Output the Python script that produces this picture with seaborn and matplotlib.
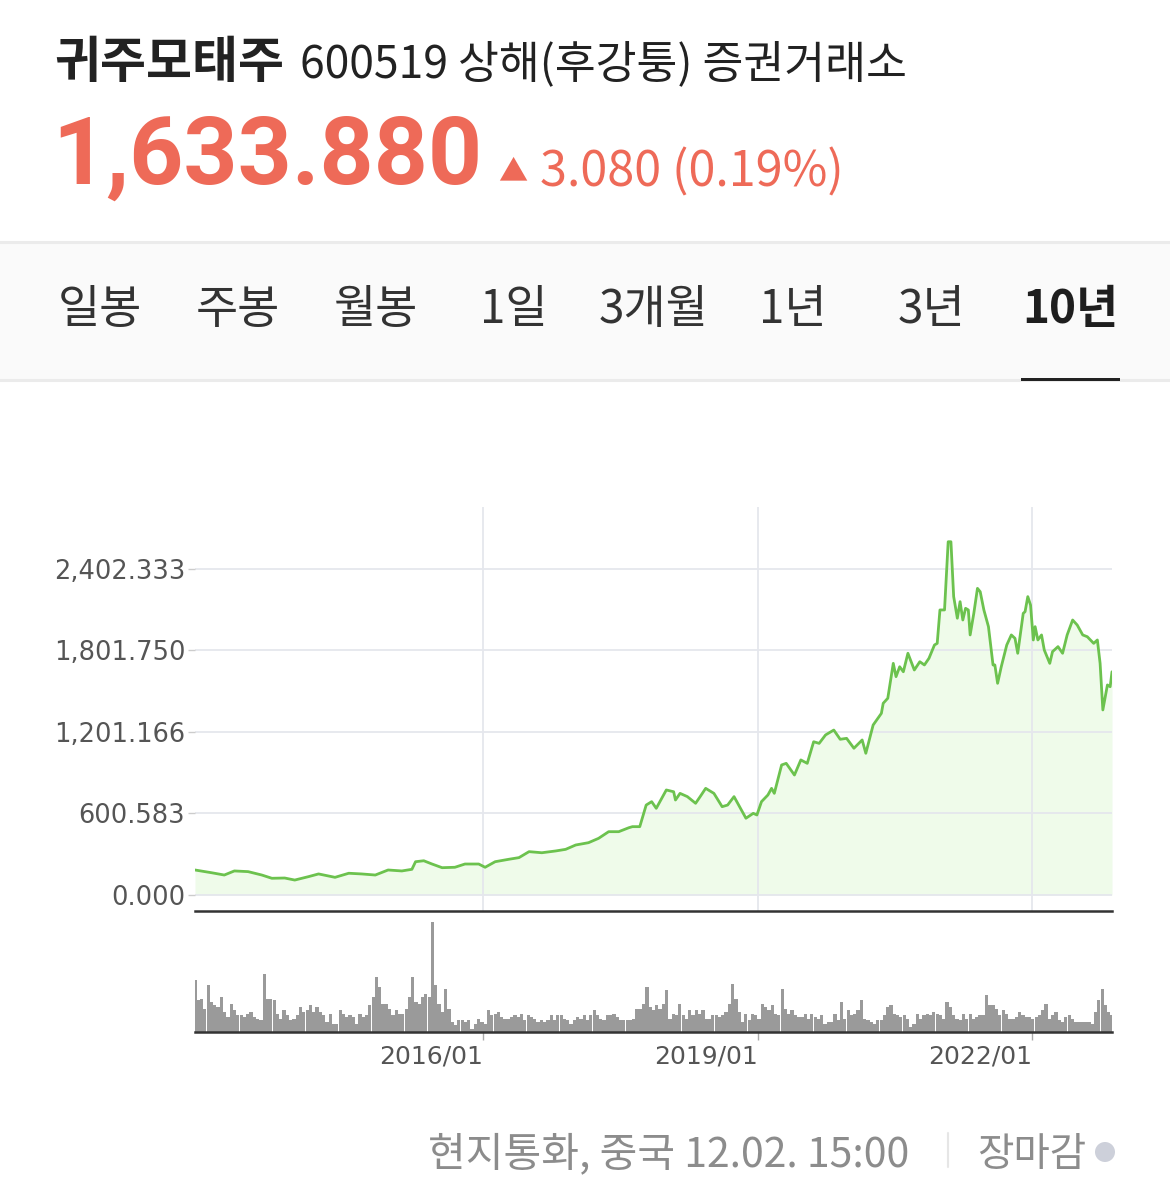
import numpy as np
import pandas as pd
import matplotlib
matplotlib.use('Agg')
import matplotlib.pyplot as plt
import seaborn as sns
from matplotlib.patches import Rectangle, Ellipse
from matplotlib.lines import Line2D

# price (x in decimal years)
t_year = [2012.85, 2013.03, 2013.17, 2013.28, 2013.43, 2013.58, 2013.69, 2013.83, 2013.94,
          2014.09, 2014.20, 2014.38, 2014.53, 2014.67, 2014.82, 2014.96, 2015.11, 2015.22,
          2015.26, 2015.35, 2015.44, 2015.55, 2015.69, 2015.80, 2015.95, 2016.02, 2016.13,
          2016.28, 2016.39, 2016.50, 2016.64, 2016.79, 2016.90, 2017.01, 2017.15, 2017.26,
          2017.37, 2017.48, 2017.59, 2017.63, 2017.71, 2017.78, 2017.84, 2017.89, 2018.00,
          2018.08, 2018.10, 2018.15, 2018.23, 2018.32, 2018.37, 2018.43, 2018.52, 2018.61,
          2018.67, 2018.74, 2018.82, 2018.87, 2018.95, 2018.99, 2019.04, 2019.11, 2019.15,
          2019.18, 2019.26, 2019.31, 2019.40, 2019.47, 2019.54, 2019.61, 2019.67, 2019.74,
          2019.83, 2019.90, 2019.97, 2020.05, 2020.14, 2020.18, 2020.26, 2020.35, 2020.37,
          2020.42, 2020.48, 2020.51, 2020.55, 2020.59, 2020.64, 2020.71, 2020.77, 2020.82,
          2020.87, 2020.93, 2020.96, 2020.99, 2021.04, 2021.08, 2021.11, 2021.14, 2021.18,
          2021.21, 2021.24, 2021.27, 2021.30, 2021.32, 2021.36, 2021.40, 2021.43, 2021.47,
          2021.52, 2021.57, 2021.59, 2021.62, 2021.66, 2021.72, 2021.77, 2021.81, 2021.84,
          2021.90, 2021.92, 2021.95, 2021.98, 2022.01, 2022.03, 2022.06, 2022.10, 2022.13,
          2022.19, 2022.22, 2022.28, 2022.33, 2022.38, 2022.44, 2022.49, 2022.55, 2022.60,
          2022.67, 2022.71, 2022.74, 2022.77, 2022.82, 2022.85, 2022.87]
price = [184, 164, 147, 177, 172, 147, 123, 125, 110,
         135, 155, 130, 160, 155, 147, 184, 177, 189,
         245, 252, 228, 201, 204, 228, 228, 204, 245,
         263, 275, 319, 311, 324, 336, 368, 385, 417,
         466, 466, 495, 503, 503, 662, 687, 638, 773,
         760, 699, 748, 724, 675, 724, 785, 748, 650,
         662, 724, 626, 565, 601, 589, 687, 736, 785,
         748, 957, 969, 883, 994, 969, 1128, 1116, 1178,
         1214, 1146, 1153, 1080, 1141, 1043, 1251, 1337, 1411,
         1448, 1705, 1607, 1680, 1643, 1779, 1656, 1717, 1693,
         1742, 1840, 1852, 2098, 2098, 2600, 2600, 2196, 2037,
         2159, 2024, 2110, 2098, 1914, 2073, 2257, 2232, 2098,
         1975, 1693, 1693, 1558, 1680, 1840, 1914, 1889, 1779,
         2073, 2085, 2196, 2134, 1877, 1975, 1877, 1914, 1803,
         1705, 1791, 1828, 1779, 1914, 2024, 1987, 1914, 1901,
         1852, 1877, 1705, 1362, 1546, 1533, 1643]

# volume bars (relative height), evenly spaced over the same period
vol = [52, 32, 33, 23, 47, 30, 27, 25, 35, 20, 15, 28, 22, 17, 17, 15, 18, 20, 15, 13,
       12, 58, 33, 33, 32, 18, 13, 22, 17, 12, 13, 17, 25, 20, 22, 27, 20, 25, 20, 17,
       10, 18, 8, 8, 22, 18, 15, 17, 15, 8, 18, 15, 17, 27, 35, 55, 45, 28, 28, 23,
       17, 22, 18, 18, 23, 35, 55, 30, 28, 35, 38, 35, 110, 47, 28, 20, 43, 23, 10, 7,
       12, 12, 10, 12, 3, 8, 13, 10, 8, 22, 17, 18, 20, 15, 13, 13, 15, 17, 15, 18,
       12, 17, 15, 13, 10, 12, 10, 12, 17, 12, 17, 17, 13, 12, 8, 12, 15, 13, 17, 12,
       17, 22, 17, 13, 12, 17, 17, 18, 15, 12, 12, 12, 12, 13, 23, 23, 28,
       45, 25, 22, 27, 23, 28, 42, 13, 18, 17, 28, 17, 13, 22, 17, 22, 18, 22, 13, 13,
       17, 17, 15, 17, 20, 28, 48, 33, 20, 10, 18, 12, 18, 17, 13, 28, 25, 22, 27, 18,
       17, 43, 23, 18, 22, 17, 15, 15, 18, 13, 18, 15, 13, 17, 8, 10, 10, 18, 12, 30,
       13, 22, 17, 18, 22, 32, 13, 12, 10, 8, 12, 12, 17, 25, 27, 18, 17, 15, 17, 13,
       5, 8, 18, 13, 17, 18, 17, 20, 18, 17, 13, 30, 25, 17, 13, 12, 18, 13, 18, 13,
       15, 17, 17, 37, 27, 27, 23, 17, 22, 18, 13, 13, 15, 20, 17, 15, 15, 13, 15, 17,
       22, 28, 13, 17, 20, 12, 10, 15, 17, 13, 10, 10, 10, 10, 10, 8, 20, 32, 43, 27,
       20, 17]

y_ticks = [0.0, 600.583, 1201.166, 1801.750, 2402.333]
x_ticks = [2016, 2019, 2022]
x_tick_labels = ['2016/01', '2019/01', '2022/01']
tabs = ['일봉', '주봉', '월봉', '1일', '3개월', '1년', '3년', '10년']

W, H = 1170, 1186
sns.set_theme(style='white')
plt.rcParams['font.family'] = ['Noto Sans CJK KR', 'DejaVu Sans']

fig = plt.figure(figsize=(W / 100, H / 100), dpi=100)
fig.patch.set_facecolor('white')

def fy(px):
    return 1 - px / H

# header
fig.text(54 / W, fy(78), '귀주모태주', fontsize=36, fontweight='bold', color='#222222', va='baseline')
fig.text(300 / W, fy(77), '600519 상해(후강퉁) 증권거래소', fontsize=32, color='#222222', va='baseline')
fig.text(52 / W, fy(184), '1,633.880', fontsize=68, fontweight='bold', color='#ee6a58',
         va='baseline', family=['Roboto', 'DejaVu Sans'])
fig.text(498 / W, fy(180), '▲', fontsize=21, color='#ee6a58', va='baseline')
fig.text(540 / W, fy(186), '3.080 (0.19%)', fontsize=35, color='#ee6a58', va='baseline')

# tab bar
fig.patches.append(Rectangle((0, fy(380)), 1, (380 - 242) / H, transform=fig.transFigure,
                             facecolor='#fafafa', edgecolor='none', zorder=0))
for yy in (242, 380):
    fig.lines.append(Line2D([0, 1], [fy(yy), fy(yy)], transform=fig.transFigure,
                            color='#ebebeb', lw=2.2))
tab_x = [100, 238, 376, 514, 654, 793, 931, 1070]
for name, cx in zip(tabs, tab_x):
    bold = name == '10년'
    fig.text(cx / W, fy(310), name, fontsize=33, ha='center', va='center',
             color='#1e1e1e' if bold else '#333333', fontweight='bold' if bold else 'normal')
fig.patches.append(Rectangle((1021 / W, fy(381)), 99 / W, 3 / H, transform=fig.transFigure,
                             facecolor='#222222', edgecolor='none', zorder=3))

# price panel
df = pd.DataFrame({'t': t_year, 'price': price})
ax = fig.add_axes([195 / W, fy(911), 917 / W, 404 / H])
ax.set_axisbelow(True)
ax.fill_between(df['t'], 0, df['price'], color='#effbea', lw=0, zorder=0.2)
sns.lineplot(data=df, x='t', y='price', ax=ax, color='#6cc24e', lw=2.0, zorder=3)
ax.set_xlim(t_year[0], t_year[-1])
ax.set_ylim(-117.8, 2855.7)
ax.set_yticks(y_ticks)
ax.set_yticklabels([f'{v:,.3f}' for v in y_ticks], family='DejaVu Sans', fontsize=18.5, color='#555555')
ax.set_xticks(x_ticks)
ax.set_xticklabels([])
ax.grid(True, color='#e5e7ed', lw=1.3)
ax.tick_params(axis='y', length=5, width=1, color='#cccccc', pad=2, left=True)
ax.tick_params(axis='x', length=0)
for s in ['top', 'left', 'right']:
    ax.spines[s].set_visible(False)
ax.spines['bottom'].set_color('#333333')
ax.spines['bottom'].set_linewidth(1.8)
ax.set_xlabel('')
ax.set_ylabel('')

# volume panel
axv = fig.add_axes([195 / W, fy(1032), 917 / W, 117 / H])
vx = np.linspace(t_year[0], t_year[-1], len(vol))
step = vx[1] - vx[0]
axv.bar(vx, vol, width=step * 0.97, color='#9a9a9a', lw=0)
axv.set_xlim(t_year[0], t_year[-1])
axv.set_ylim(0, 117)
axv.set_yticks([])
axv.set_xticks(x_ticks)
axv.set_xticklabels(x_tick_labels, family='DejaVu Sans', fontsize=18, color='#555555', ha='right')
axv.tick_params(axis='x', length=6, width=1, color='#aaaaaa', pad=3, bottom=True)
for s in ['top', 'left', 'right']:
    axv.spines[s].set_visible(False)
axv.spines['bottom'].set_color('#333333')
axv.spines['bottom'].set_linewidth(1.8)

# footer
fig.text(428 / W, fy(1166), '현지통화, 중국 12.02. 15:00', fontsize=29.5, color='#8c8c8c', va='baseline')
fig.lines.append(Line2D([948 / W, 948 / W], [fy(1167), fy(1133)], transform=fig.transFigure,
                        color='#e6e6e6', lw=1.5))
fig.text(977 / W, fy(1166), '장마감', fontsize=28.5, color='#8c8c8c', va='baseline')
fig.patches.append(Ellipse((1105 / W, fy(1152)), 20 / W, 20 / H, transform=fig.transFigure,
                           facecolor='#cdd0da', edgecolor='none'))

fig.savefig('out.png', dpi=100)
